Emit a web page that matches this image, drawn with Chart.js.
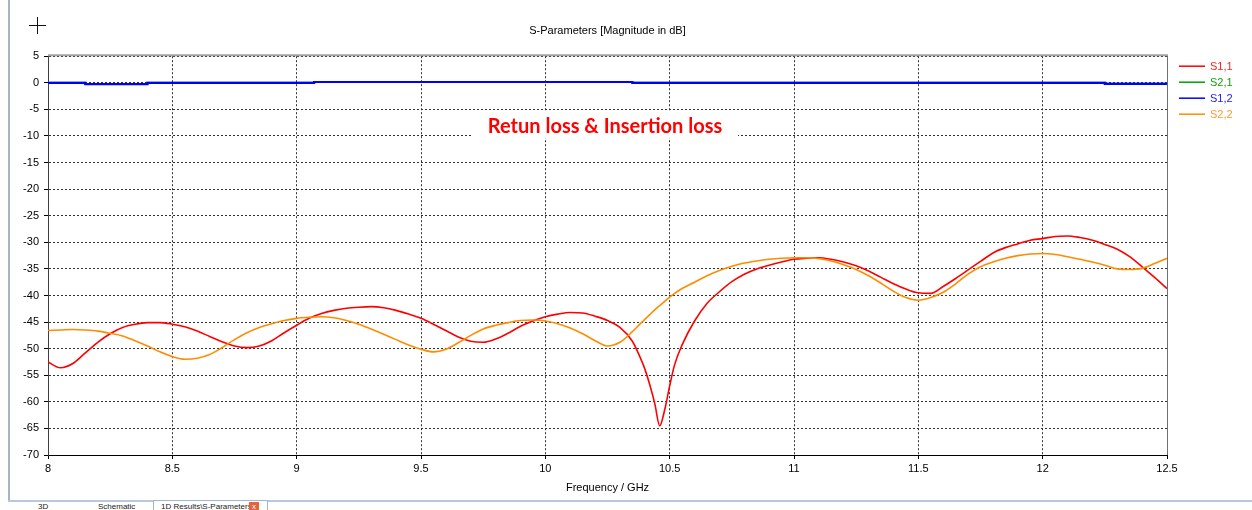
<!DOCTYPE html>
<html>
<head>
<meta charset="utf-8">
<script src="https://cdn.jsdelivr.net/npm/chart.js@4"></script>
<style>
body { margin:0; background:#fff; width:1252px; height:510px; overflow:hidden; position:relative; font-family:"Liberation Sans", Arial, sans-serif; }
#wrap { position:absolute; left:0; top:0; width:1252px; height:497px; }
#leftbar { position:absolute; left:8px; top:0; width:2px; height:502px; background:#a7b4c6; }
#bottombar { position:absolute; left:8px; top:500px; width:1244px; height:2px; background:#b9c9dd; }
.tab { position:absolute; top:501px; font-size:8px; line-height:12px; color:#222; white-space:nowrap; }
#active { position:absolute; left:153px; top:500px; width:113px; height:12px; background:#fff; border:1px solid #9fb6d2; border-bottom:none; }
#close { position:absolute; left:249px; top:502px; width:10px; height:9px; background:#e8623a; color:#fff; font-size:8px; line-height:9px; text-align:center; }
</style>
</head>
<body>
<div id="leftbar"></div>
<div id="bottombar"></div>
<div id="active"></div>
<div class="tab" style="left:38px">3D</div>
<div class="tab" style="left:98px">Schematic</div>
<div class="tab" style="left:161px">1D Results\S-Parameters</div>
<div id="close">x</div>
<div id="wrap"><canvas id="chart" width="1252" height="497"></canvas></div>
<script>
// 周波数 (GHz)
const freq = [8.00,8.05,8.10,8.15,8.20,8.25,8.30,8.35,8.40,8.45,8.50,8.55,8.60,8.65,8.70,8.75,8.80,8.85,8.90,8.95,
  9.00,9.05,9.10,9.15,9.20,9.25,9.30,9.35,9.40,9.45,9.50,9.55,9.60,9.65,9.70,9.75,9.80,9.85,9.90,9.95,
  10.00,10.05,10.10,10.15,10.20,10.25,10.30,10.35,10.38,10.40,10.42,10.44,10.46,10.48,10.50,10.52,10.55,10.60,10.65,10.70,
  10.75,10.80,10.85,10.90,10.95,11.00,11.05,11.10,11.15,11.20,11.25,11.30,11.35,11.40,11.45,11.50,11.55,11.60,11.65,11.70,
  11.75,11.80,11.85,11.90,11.95,12.00,12.05,12.10,12.15,12.20,12.25,12.30,12.35,12.40,12.45,12.50];

const s11 = [-52.5,-53.6,-52.8,-50.8,-48.8,-47.2,-46.0,-45.4,-45.1,-45.1,-45.4,-45.9,-46.7,-47.7,-48.7,-49.5,-49.8,-49.5,-48.5,-47.0,
  -45.6,-44.3,-43.4,-42.8,-42.4,-42.2,-42.1,-42.3,-42.8,-43.5,-44.3,-45.4,-46.6,-47.8,-48.6,-48.8,-48.2,-47.1,-45.8,-44.8,
  -44.0,-43.5,-43.2,-43.3,-43.9,-44.7,-46.0,-48.6,-51.5,-53.8,-56.8,-60.3,-64.5,-61.5,-57.0,-53.0,-49.3,-44.8,-41.5,-39.3,
  -37.4,-36.0,-35.0,-34.3,-33.7,-33.2,-33.0,-32.9,-33.2,-33.7,-34.4,-35.4,-36.6,-37.8,-38.8,-39.5,-39.6,-38.3,-36.8,-35.2,
  -33.6,-32.0,-31.0,-30.3,-29.6,-29.3,-28.9,-28.8,-29.1,-29.6,-30.4,-31.3,-32.7,-34.6,-36.6,-38.7];

const s22 = [-46.6,-46.5,-46.4,-46.5,-46.7,-47.1,-47.6,-48.5,-49.5,-50.6,-51.5,-52.0,-51.8,-51.1,-49.8,-48.3,-47.0,-46.0,-45.3,-44.7,
  -44.3,-44.1,-44.0,-44.2,-44.7,-45.4,-46.3,-47.3,-48.3,-49.3,-50.1,-50.6,-50.1,-48.9,-47.5,-46.3,-45.6,-45.1,-44.7,-44.6,
  -44.8,-45.3,-46.1,-47.2,-48.5,-49.5,-48.8,-46.8,-45.4,-44.5,-43.6,-42.7,-41.9,-41.1,-40.3,-39.6,-38.7,-37.5,-36.3,-35.3,
  -34.5,-33.9,-33.5,-33.2,-33.0,-32.9,-32.9,-33.1,-33.5,-34.2,-35.1,-36.3,-37.7,-39.2,-40.4,-40.9,-40.4,-39.4,-37.8,-36.0,
  -34.6,-33.7,-33.0,-32.5,-32.2,-32.1,-32.3,-32.7,-33.2,-33.7,-34.3,-35.0,-35.1,-34.9,-34.0,-33.0];

// 透過 (ほぼ 0 dB、段差あり)
const thruFreq = [8.00,8.15,8.15,8.40,8.40,9.07,9.07,10.35,10.35,12.25,12.25,12.50];
const s21 = [0,0,-0.25,-0.25,0,0,0.15,0.15,0,0,-0.2,-0.2];
const s12 = [0,0,-0.25,-0.25,0,0,0.15,0.15,0,0,-0.2,-0.2];

const xTicks = [8,8.5,9,9.5,10,10.5,11,11.5,12,12.5];
const yTicks = [5,0,-5,-10,-15,-20,-25,-30,-35,-40,-45,-50,-55,-60,-65,-70];

const names = ['S1,1','S2,1','S1,2','S2,2'];
const colors = ['#ff0000','#00a000','#0000ff','#ff8c00'];
const textColors = ['#ff2020','#10a010','#2020ff','#ff9a30'];

const toXY = (xs, ys) => xs.map((x, i) => ({x: x, y: ys[i]}));

Chart.defaults.font.family = '"Liberation Sans", Arial, sans-serif';
Chart.defaults.font.size = 11;
Chart.defaults.color = '#000';

const extras = {
  id: 'extras',
  afterDraw(chart) {
    const ctx = chart.ctx, a = chart.chartArea;
    const xs = chart.scales.x, ys = chart.scales.y;
    ctx.save();
    // 枠 (上と右)
    ctx.strokeStyle = '#a0a0a0';
    ctx.lineWidth = 2;
    ctx.beginPath();
    ctx.moveTo(a.left, a.top - 1);
    ctx.lineTo(a.right + 1, a.top - 1);
    ctx.stroke();
    ctx.strokeStyle = '#707070';
    ctx.lineWidth = 1;
    ctx.beginPath();
    ctx.moveTo(a.right + 0.5, a.top);
    ctx.lineTo(a.right + 0.5, a.bottom);
    ctx.stroke();

    // 注釈テキスト
    const cx = xs.getPixelForValue(10.24), cy = ys.getPixelForValue(-8.3);
    ctx.fillStyle = '#fff';
    ctx.fillRect(cx - 133, cy - 16, 266, 27);
    ctx.fillStyle = '#ff0000';
    ctx.font = 'bold 20px Lato, "Open Sans", sans-serif';
    ctx.textAlign = 'center';
    ctx.textBaseline = 'middle';
    ctx.fillText('Retun loss & Insertion loss', cx, cy);

    // 凡例
    ctx.font = '11px "Liberation Sans", Arial, sans-serif';
    ctx.textAlign = 'left';
    names.forEach((n, i) => {
      const y = a.top + 10 + i * 16;
      ctx.strokeStyle = colors[i];
      ctx.lineWidth = 1.5;
      ctx.beginPath();
      ctx.moveTo(a.right + 12, y);
      ctx.lineTo(a.right + 38, y);
      ctx.stroke();
      ctx.fillStyle = textColors[i];
      ctx.fillText(n, a.right + 43, y + 1);
    });

    // 左上の十字
    ctx.strokeStyle = '#111';
    ctx.lineWidth = 1;
    ctx.beginPath();
    ctx.moveTo(29, 25.5); ctx.lineTo(46, 25.5);
    ctx.moveTo(37.5, 17); ctx.lineTo(37.5, 34);
    ctx.stroke();
    ctx.restore();
  }
};

const gridOpts = { color: '#303030', lineWidth: 1, tickLength: 4, tickColor: '#000', tickBorderDash: [], borderDash: [2, 2] };

new Chart(document.getElementById('chart'), {
  type: 'line',
  data: {
    datasets: [
      { label: names[0], data: toXY(freq, s11), borderColor: colors[0], borderWidth: 1.6, cubicInterpolationMode: 'monotone', order: 1 },
      { label: names[1], data: toXY(thruFreq, s21), borderColor: colors[1], borderWidth: 2, tension: 0, order: 3 },
      { label: names[2], data: toXY(thruFreq, s12), borderColor: colors[2], borderWidth: 2.2, tension: 0, order: 2 },
      { label: names[3], data: toXY(freq, s22), borderColor: colors[3], borderWidth: 1.6, cubicInterpolationMode: 'monotone', order: 0 }
    ]
  },
  options: {
    responsive: false,
    devicePixelRatio: 1,
    animation: false,
    elements: { point: { radius: 0 } },
    layout: { padding: { left: 10, right: 85, top: 0, bottom: 0 } },
    plugins: {
      legend: { display: false },
      tooltip: { enabled: false },
      title: {
        display: true,
        text: 'S-Parameters [Magnitude in dB]',
        fullSize: false,
        font: { size: 11, weight: 'normal' },
        color: '#000',
        padding: { top: 24, bottom: 19 }
      }
    },
    scales: {
      x: {
        type: 'linear',
        min: 8, max: 12.5,
        afterBuildTicks: s => { s.ticks = xTicks.map(v => ({ value: v })); },
        afterFit: s => { s.height = 42; },
        ticks: { padding: 3, maxRotation: 0, autoSkip: false, callback: v => String(v) },
        grid: gridOpts,
        border: { display: true, color: '#000', width: 1, dash: [2, 2] },
        title: { display: true, text: 'Frequency / GHz', padding: { top: 0, bottom: 2 } }
      },
      y: {
        min: -70, max: 5,
        afterBuildTicks: s => { s.ticks = yTicks.map(v => ({ value: v })); },
        afterFit: s => { s.width = 38; },
        ticks: { padding: 5, autoSkip: false, callback: v => String(v) },
        grid: gridOpts,
        border: { display: true, color: '#404040', width: 1, dash: [2, 2] }
      }
    }
  },
  plugins: [extras]
});
</script>
</body>
</html>
